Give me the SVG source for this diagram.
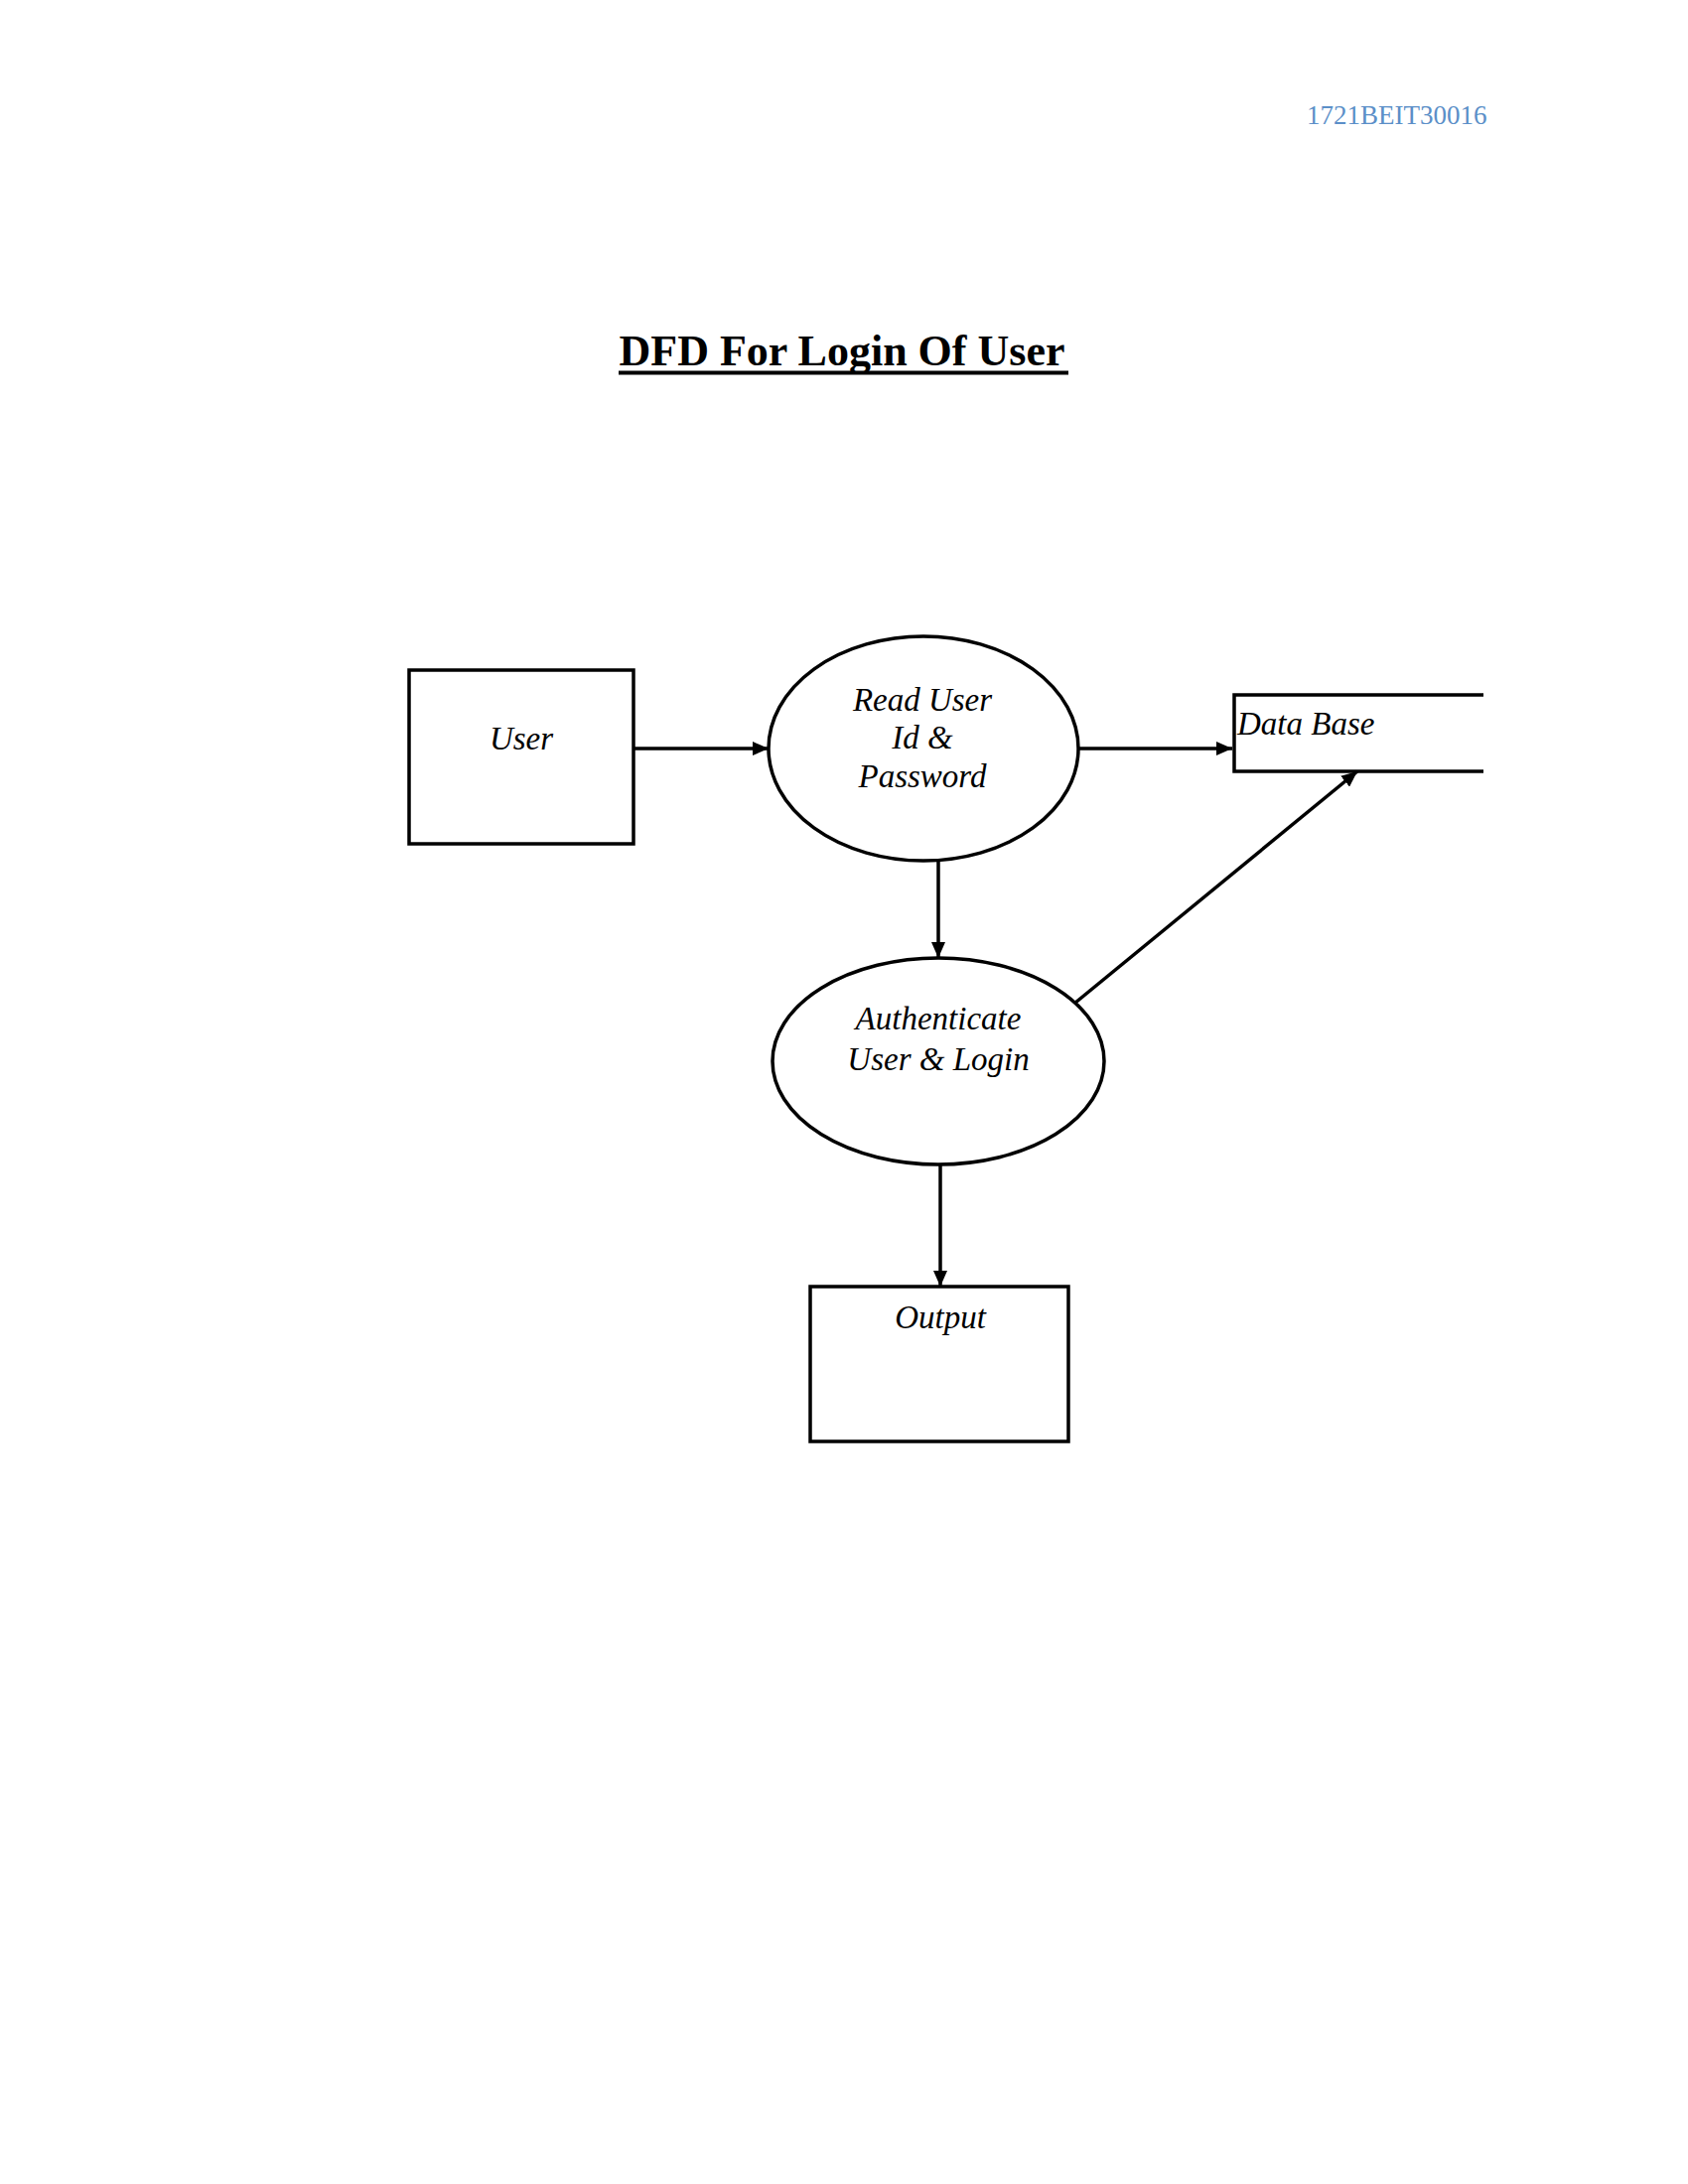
<svg xmlns="http://www.w3.org/2000/svg" width="1700" height="2200" viewBox="0 0 1700 2200">
<style>
.shape{fill:#fff;stroke:#000;stroke-width:3.5}
.lbl{font-family:"Liberation Serif","Times New Roman",serif;font-style:italic;font-size:33px;fill:#000;text-anchor:middle}
.conn{stroke:#000;stroke-width:3.5;fill:none;marker-end:url(#arrow)}
</style>
<defs>
<marker id="arrow" viewBox="0 0 16 14" refX="16" refY="7" markerWidth="16" markerHeight="14" markerUnits="userSpaceOnUse" orient="auto">
<path d="M0,0 L16,7 L0,14 Z" fill="#000"/>
</marker>
</defs>
<rect width="1700" height="2200" fill="#fff"/>
<text id="header" x="1316" y="125" font-family="Liberation Serif, Times New Roman, serif" font-size="27" fill="#5b8fc8">1721BEIT30016</text>
<g id="title">
<text x="848" y="368" font-family="Liberation Serif, Times New Roman, serif" font-size="44" font-weight="bold" text-anchor="middle" fill="#000">DFD For Login Of User</text>
<rect x="623" y="373.5" width="453" height="4" fill="#000"/>
</g>
<g id="connectors">
<line class="conn" x1="638" y1="754" x2="774" y2="754"/>
<line class="conn" x1="1086" y1="754" x2="1241" y2="754"/>
<line class="conn" x1="945" y1="867" x2="945" y2="965"/>
<line class="conn" x1="1083" y1="1010" x2="1367" y2="777"/>
<line class="conn" x1="947" y1="1168" x2="947" y2="1296"/>
</g>
<g id="user">
<rect class="shape" x="412" y="675" width="226" height="175"/>
<text class="lbl" x="525" y="755">User</text>
</g>
<g id="read">
<ellipse class="shape" cx="930" cy="754" rx="156" ry="113"/>
<text class="lbl" x="929" y="716">Read User</text>
<text class="lbl" x="929" y="754">Id &amp;</text>
<text class="lbl" x="929" y="793">Password</text>
</g>
<g id="database">
<path d="M1494,700 L1243,700 L1243,777 L1494,777" fill="none" stroke="#000" stroke-width="3.5"/>
<text class="lbl" x="1246" y="740" style="text-anchor:start">Data Base</text>
</g>
<g id="auth">
<ellipse class="shape" cx="945" cy="1069" rx="167" ry="104"/>
<text class="lbl" x="945" y="1037">Authenticate</text>
<text class="lbl" x="945" y="1078">User &amp; Login</text>
</g>
<g id="output">
<rect class="shape" x="816" y="1296" width="260" height="156"/>
<text class="lbl" x="947" y="1338">Output</text>
</g>
</svg>
